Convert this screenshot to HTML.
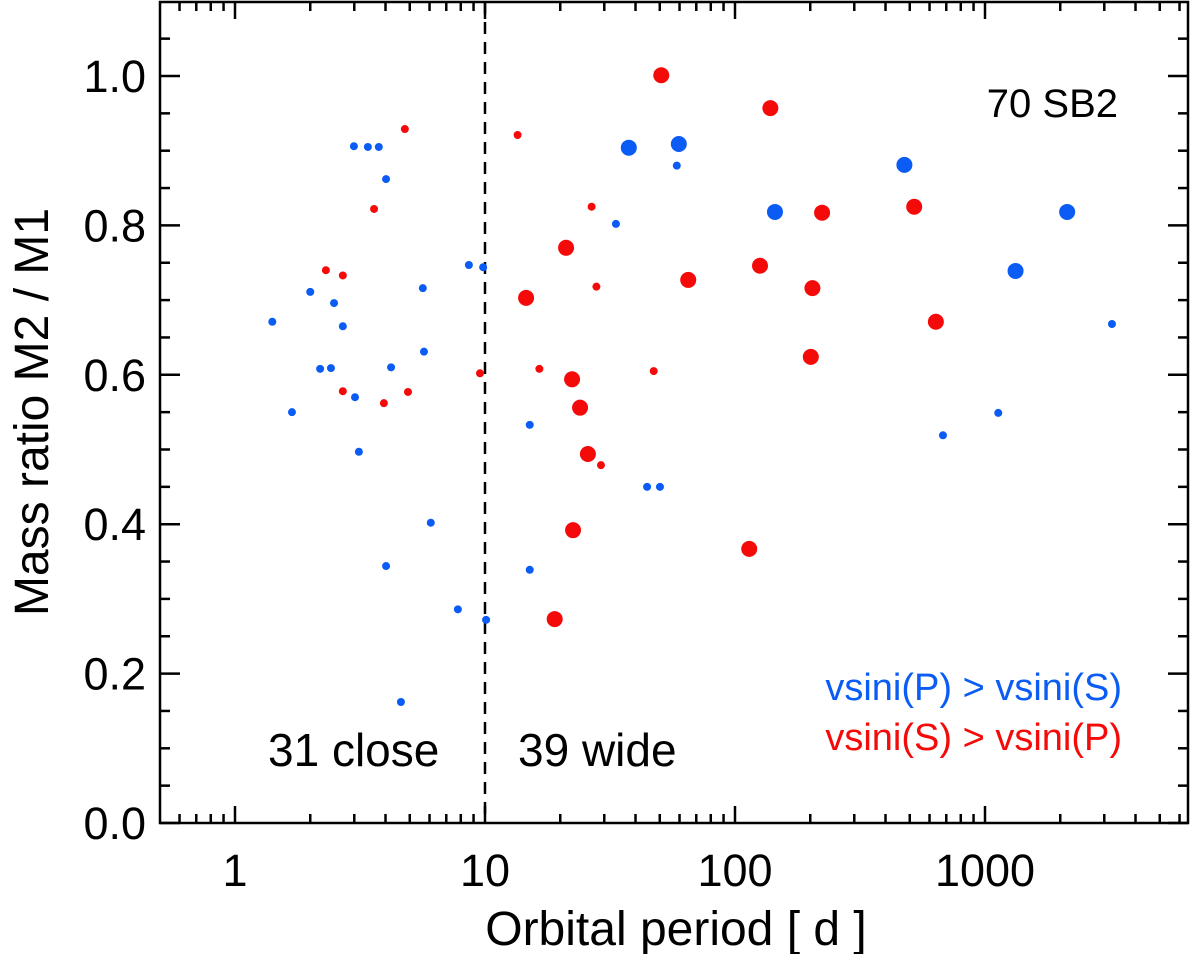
<!DOCTYPE html>
<html><head><meta charset="utf-8"><style>
body{margin:0;background:#fff}
svg{display:block;font-family:"Liberation Sans",Arial,sans-serif}
</style></head><body>
<svg id="chart" width="1200" height="954" viewBox="0 0 1200 954" xmlns="http://www.w3.org/2000/svg"></svg>
<script>
const blueSmallX=[1.41,1.69,2.0,2.19,2.42,2.49,2.70,3.02,3.13,2.99,3.40,3.76,4.02,4.21,4.02,5.64,5.70,4.61,6.07,7.79,8.62,9.83,10.1,15.1,15.1,33.4,44.5,50.1,58.5,679,1130,3220];
const blueSmallY=[0.671,0.550,0.711,0.608,0.609,0.696,0.665,0.570,0.497,0.906,0.905,0.905,0.862,0.610,0.344,0.716,0.631,0.162,0.402,0.286,0.747,0.744,0.272,0.533,0.339,0.802,0.450,0.450,0.880,0.519,0.549,0.668];
const blueBigX=[37.6,59.6,144.5,476,1325,2131];
const blueBigY=[0.904,0.909,0.818,0.881,0.739,0.818];
const redSmallX=[2.31,2.70,2.70,3.60,3.94,4.78,4.92,9.55,13.5,26.7,27.9,29.1,16.5,47.3];
const redSmallY=[0.740,0.733,0.578,0.822,0.562,0.929,0.577,0.602,0.921,0.825,0.718,0.479,0.608,0.605];
const redBigX=[50.7,138.5,21.1,14.6,65.0,125.9,223,204,521,22.3,24.0,201,636,25.8,22.5,114,19.0];
const redBigY=[1.001,0.957,0.770,0.703,0.727,0.746,0.817,0.716,0.825,0.594,0.556,0.624,0.671,0.494,0.392,0.367,0.273];
const yTicks=["0.0","0.2","0.4","0.6","0.8","1.0"];
const xTicks=["1","10","100","1000"];

const L=160,R=1188,T=2,B=823;
const X=v=>235+250*Math.log10(v);
const Y=v=>B-747*v;
const svg=document.getElementById('chart');
const NS='http://www.w3.org/2000/svg';
function mk(tag,attrs,parent){const e=document.createElementNS(NS,tag);for(const k in attrs)e.setAttribute(k,attrs[k]);(parent||svg).appendChild(e);return e;}

const dl=mk('line',{x1:X(10),x2:X(10),y1:T,y2:B,stroke:'#000','stroke-width':2.5,'stroke-dasharray':'12 8'});



const tg=mk('g',{stroke:'#000','stroke-width':2.5});


for(let d=-1;d<=3;d++){for(let m=1;m<=9;m++){const v=m*Math.pow(10,d);const x=X(v);if(x<L||x>R)continue;const len=m===1?17:9;
mk('line',{x1:x,x2:x,y1:B,y2:B-len},tg);mk('line',{x1:x,x2:x,y1:T,y2:T+len},tg);}}
for(let i=0;i<=21;i++){const v=i*0.05;const y=Y(v);const len=i%4===0?20:10;
mk('line',{x1:L,x2:L+len,y1:y,y2:y},tg);mk('line',{x1:R,x2:R-len,y1:y,y2:y},tg);}

const fr=mk('rect',{x:L,y:T,width:R-L,height:B-T,fill:'none',stroke:'#000','stroke-width':2.5});



yTicks.forEach(t=>{const e=mk('text',{x:146,y:Y(+t)+16,'text-anchor':'end','font-size':45});e.textContent=t;

});
xTicks.forEach(t=>{const e=mk('text',{x:X(+t),y:886,'text-anchor':'middle','font-size':45});e.textContent=t;

});

function pts(xs,ys,r,c,name){xs.forEach((x,i)=>{const e=mk('circle',{cx:X(x),cy:Y(ys[i]),r:r,fill:c});

});}
pts(blueSmallX,blueSmallY,4,'#0a5cf5','blue-point');
pts(blueBigX,blueBigY,8,'#0a5cf5','blue-big-point');
pts(redSmallX,redSmallY,4,'#f50a0a','red-point');
pts(redBigX,redBigY,8,'#f50a0a','red-big-point');

function txt(s,attrs,name){const e=mk('text',attrs);e.textContent=s;

return e;}
txt('Orbital period [ d ]',{x:676,y:945,'text-anchor':'middle','font-size':48},'x-axis-title');
txt('Mass ratio  M2 / M1',{x:0,y:0,'text-anchor':'middle','font-size':48,transform:'translate(48,412) rotate(-90)','xml:space':'preserve'},'y-axis-title');
txt('70 SB2',{x:1118,y:117,'text-anchor':'end','font-size':40},'sample-count');
txt('31 close',{x:268,y:766,'font-size':46},'close-count');
txt('39 wide',{x:518,y:766,'font-size':46},'wide-count');
txt('vsini(P) > vsini(S)',{x:1122,y:700,'text-anchor':'end','font-size':38,fill:'#0a5cf5'},'legend-blue');
txt('vsini(S) > vsini(P)',{x:1122,y:750,'text-anchor':'end','font-size':38,fill:'#f50a0a'},'legend-red');
</script>
</body></html>
